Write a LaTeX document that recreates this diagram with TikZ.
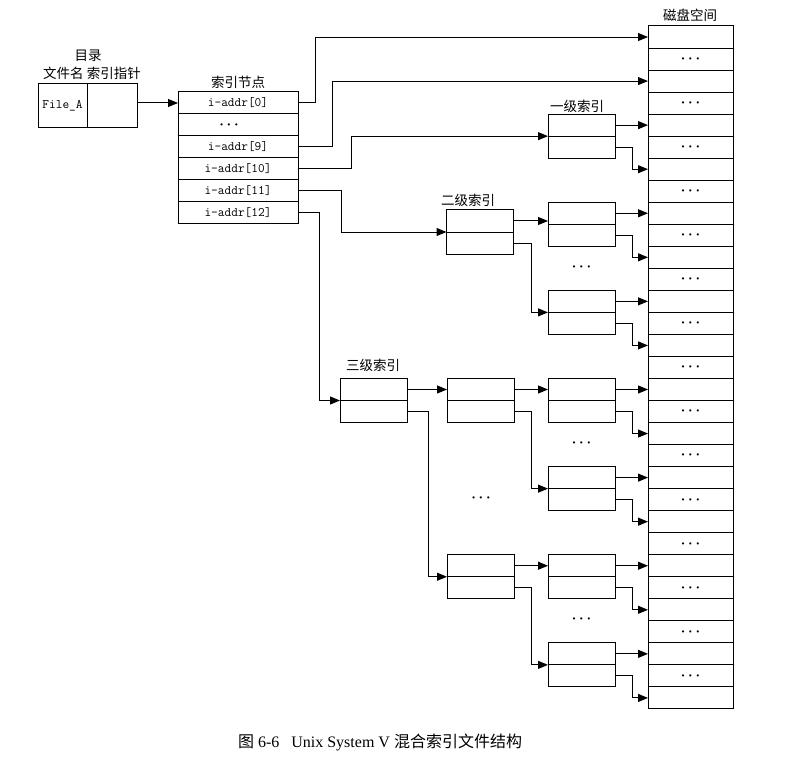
\documentclass[tikz,border=0pt]{standalone}
\usepackage{bm}
\usepackage{fontspec}
\setmainfont{Liberation Serif}
\newfontfamily\cjk{Noto Sans CJK SC}
\usetikzlibrary{positioning,arrows.meta}

\tikzset{
  cell/.style={draw,rectangle,minimum width=67pt,minimum height=22.03pt,
    inner sep=0pt,outer sep=0pt,line width=1pt},
  addr/.style={cell,minimum width=120pt,minimum height=22pt,font=\fontsize{13}{14}\ttfamily},
  lbl/.style={font=\cjk\fontsize{13.5}{15}\selectfont,inner sep=0pt},
  ellip/.style={font=\fontsize{14}{14}\selectfont,inner sep=0pt},
  link/.style={line width=1pt,-{Triangle[length=10pt,width=8pt]}}
}

% two stacked cells of an index block
\newcommand{\idxblock}[2]{%
  \node[cell] (#1-t) at (#2) {};
  \node[cell,below=0pt of #1-t] (#1-b) {};
}
\newcommand{\bdots}{$\bm{\cdots}$}

\begin{document}
\begin{tikzpicture}[x=1pt,y=-1pt]
  \useasboundingbox (0,0) rectangle (802,759);

  % directory entry
  \node[lbl] (dirlbl) at (88,56) {目录};
  \node[lbl] (dircols) at (92,73) {文件名 索引指针};
  \node[cell,minimum width=49pt,minimum height=44pt,font=\fontsize{13}{14}\ttfamily]
    (fname) at (62.5,105.5) {File\_A};
  \node[cell,minimum width=50pt,minimum height=44pt,right=0pt of fname] (fptr) {};

  % inode
  \node[lbl] (inodelbl) at (238,82) {索引节点};
  \node[addr] (ia0) at (238,103) {i-addr[0]};
  \node[addr,below=0pt of ia0] (iadots) {};
  \node[ellip,xshift=-9pt] at (iadots) {\bdots};
  \node[addr,below=0pt of iadots] (ia9) {i-addr[9]};
  \node[addr,below=0pt of ia9] (ia10) {i-addr[10]};
  \node[addr,below=0pt of ia10] (ia11) {i-addr[11]};
  \node[addr,below=0pt of ia11] (ia12) {i-addr[12]};

  % disk blocks
  \node[lbl] (disklbl) at (690,15) {磁盘空间};
  \foreach \i in {1,...,31}
    \node[cell,minimum width=85pt] (d\i) at (690.5,{26+(\i-0.5)*22.03}) {};
  \foreach \i in {2,4,...,30}
    \node[ellip] at (d\i) {\bdots};

  % index blocks
  \idxblock{L1}{581.5,0 |- d5}
  \idxblock{L2}{480,221}
  \idxblock{S1}{581.5,0 |- d9}
  \idxblock{S2}{581.5,0 |- d13}
  \idxblock{L3}{373.5,0 |- d17}
  \idxblock{M1}{480.5,0 |- d17}
  \idxblock{M2}{480.5,0 |- d25}
  \idxblock{T1}{581.5,0 |- d17}
  \idxblock{T2}{581.5,0 |- d21}
  \idxblock{T3}{581.5,0 |- d25}
  \idxblock{T4}{581.5,0 |- d29}

  \node[lbl] at (577,106) {一级索引};
  \node[lbl] at (468,200) {二级索引};
  \node[lbl] at (373,365) {三级索引};

  \node[ellip] at (581.5,267) {\bdots};
  \node[ellip] at (581.5,443) {\bdots};
  \node[ellip] at (581.5,619) {\bdots};
  \node[ellip] at (481,498)   {\bdots};

  % directory -> inode
  \draw[link] (fptr.east |- ia0.west) -- (ia0.west);

  % inode addresses
  \draw[link] (ia0.east)  -- ++(17,0) |- (d1.west);
  \draw[link] (ia9.east)  -- ++(34,0) |- (d3.west);
  \draw[link] (ia10.east) -- ++(53,0) |- (L1-t.south west);
  \draw[link] (ia11.east) -- ++(43,0) |- (L2-t.south west);
  \draw[link] (ia12.east) -- ++(21,0) |- (L3-t.south west);

  % second and third level
  \draw[link] (L2-t.east) -- (L2-t.east -| S1-t.west);
  \draw[link] (L2-b.east) -- ++(18,0) |- (S2-t.south west);
  \draw[link] (L3-t.east) -- (L3-t.east -| M1-t.west);
  \draw[link] (L3-b.east) -- ++(21,0) |- (M2-t.south west);
  \draw[link] (M1-t.east) -- (M1-t.east -| T1-t.west);
  \draw[link] (M1-b.east) -- ++(17,0) |- (T2-t.south west);
  \draw[link] (M2-t.east) -- (M2-t.east -| T3-t.west);
  \draw[link] (M2-b.east) -- ++(17,0) |- (T4-t.south west);

  % index blocks -> disk
  \draw[link] (L1-t.east) -- (L1-t.east -| d5.west);
  \draw[link] (L1-b.east) -- ++(17,0) |- (d7.west);
  \draw[link] (S1-t.east) -- (S1-t.east -| d9.west);
  \draw[link] (S1-b.east) -- ++(17,0) |- (d11.west);
  \draw[link] (S2-t.east) -- (S2-t.east -| d13.west);
  \draw[link] (S2-b.east) -- ++(17,0) |- (d15.west);
  \draw[link] (T1-t.east) -- (T1-t.east -| d17.west);
  \draw[link] (T1-b.east) -- ++(17,0) |- (d19.west);
  \draw[link] (T2-t.east) -- (T2-t.east -| d21.west);
  \draw[link] (T2-b.east) -- ++(17,0) |- (d23.west);
  \draw[link] (T3-t.east) -- (T3-t.east -| d25.west);
  \draw[link] (T3-b.east) -- ++(17,0) |- (d27.west);
  \draw[link] (T4-t.east) -- (T4-t.east -| d29.west);
  \draw[link] (T4-b.east) -- ++(17,0) |- (d31.west);

  % caption
  \node[font=\fontsize{16}{18}\selectfont] (caption) at (380,742)
    {{\cjk 图} 6-6\hspace{12pt}Unix System V {\cjk 混合索引文件结构}};
\end{tikzpicture}
\end{document}
